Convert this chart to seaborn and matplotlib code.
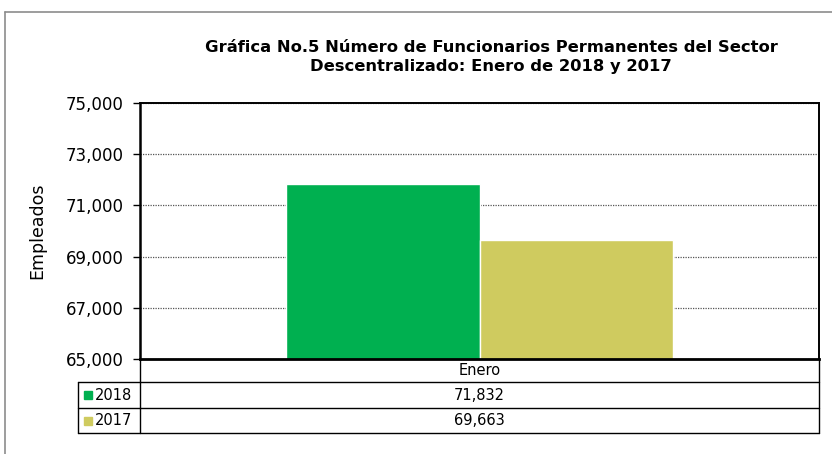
import matplotlib
matplotlib.use("Agg")
import matplotlib.pyplot as plt
import seaborn as sns
import pandas as pd
from matplotlib.lines import Line2D
from matplotlib.patches import Rectangle

# DATA:
meses = ["Enero"]
anios = ["2018", "2017"]
valores = [71832, 69663]
colores = ["#00B050", "#CFCB5F"]
yticks = [65000, 67000, 69000, 71000, 73000, 75000]
titulo = "Gráfica No.5 Número de Funcionarios Permanentes del Sector\nDescentralizado: Enero de 2018 y 2017"

sns.set_style("white")
plt.rcParams['font.family'] = ['DejaVu Sans']
plt.rcParams['text.color'] = 'black'
plt.rcParams['axes.labelcolor'] = 'black'
plt.rcParams['ytick.color'] = 'black'

W, H = 832, 454
fig = plt.figure(figsize=(W / 100, H / 100), dpi=100)


def fx(px):
    return px / W


def fy(py):
    return 1 - py / H


def linea(x1, y1, x2, y2, color='black', lw=1.0):
    fig.add_artist(Line2D([fx(x1), fx(x2)], [fy(y1), fy(y2)],
                          transform=fig.transFigure, color=color, lw=lw))


# plot area in pixels
L, R, T, B = 140, 819, 103, 359
ax = fig.add_axes([fx(L), fy(B), (R - L) / W, (B - T) / H])

df = pd.DataFrame({"mes": meses * len(anios), "anio": anios, "valor": valores})
sns.barplot(data=df, x="mes", y="valor", hue="anio", palette=colores,
            width=0.57, saturation=1, legend=False, ax=ax)

ax.set_ylim(yticks[0], yticks[-1])
ax.set_yticks(yticks)
ax.set_yticklabels([f"{v:,}" for v in yticks], fontsize=12)
ax.set_xticks([])
ax.set_xlabel("")
ax.set_ylabel("Empleados", fontsize=12.5)
ax.yaxis.set_label_coords(-0.138, 0.5)
ax.yaxis.grid(True, linestyle=(0, (1, 1)), color='#555555', lw=0.9)
ax.set_axisbelow(True)
ax.tick_params(axis='y', direction='out', length=5, width=1, color='black', pad=7, left=True)
for s in ax.spines.values():
    s.set_color('black')
    s.set_linewidth(1.4)
ax.spines['bottom'].set_linewidth(2)
ax.spines['left'].set_linewidth(1.8)

# title
fig.text(fx(491), fy(57), titulo, ha='center', va='center',
         fontsize=11.8, fontweight='bold', linespacing=1.25)

# outer chart frame
linea(5, 12, 5, H, color='#8c8c8c', lw=1.2)
linea(5, 12, W, 12, color='#8c8c8c', lw=1.2)

# data table under the chart
r0, r1, r2, r3 = B, 382, 408, 433
c0 = 78
linea(L, r0, L, r3)
linea(R, r0, R, r3)
linea(L, r1, R, r1)
linea(c0, r1, L, r1)
linea(c0, r2, R, r2)
linea(c0, r3, R, r3)
linea(c0, r1, c0, r3)

fig.text(fx((L + R) / 2), fy((r0 + r1) / 2), meses[0], ha='center', va='center', fontsize=10.5)
for i, (a, v, c) in enumerate(zip(anios, valores, colores)):
    top, bot = [(r1, r2), (r2, r3)][i]
    mid = (top + bot) / 2
    fig.add_artist(Rectangle((fx(84), fy(mid + 4)), 8 / W, 8 / H,
                             transform=fig.transFigure, color=c))
    fig.text(fx(95), fy(mid), a, ha='left', va='center', fontsize=10.5)
    fig.text(fx((L + R) / 2), fy(mid), f"{v:,}", ha='center', va='center', fontsize=10.5)

fig.savefig("out.png", dpi=100)
